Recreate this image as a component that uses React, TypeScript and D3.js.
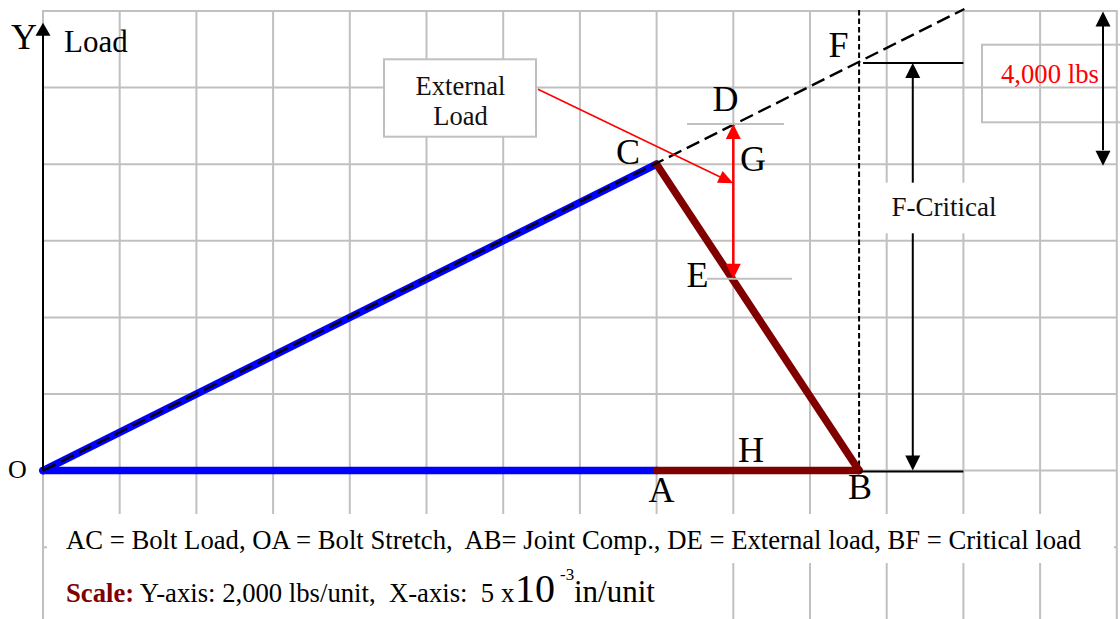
import React from 'react';
import * as d3 from 'd3';

const W = 1120;
const H = 619;

// grid units (1 unit = 2,000 lbs on Y, 5e-3 in on X)
const xTicks = [0, 1, 2, 3, 4, 5, 6, 7, 8, 9, 10, 11, 12, 13, 14];
const yTicks = [-1, 0, 1, 2, 3, 4, 5, 6];

// named points of the joint diagram (in grid units)
const pointNames = ['O', 'A', 'C', 'B', 'D', 'E', 'F', 'G'];
const pointX = [0, 8, 8, 10.64, 9, 9, 10.64, 9];
const pointY = [0, 0, 4, 0, 4.5, 2.48, 5.32, 3.75];

const boltSegments = [['O', 'C'], ['O', 'A']];
const jointSegments = [['A', 'B'], ['C', 'B']];
const loadLineEnd = [12, 6];
const fourKTop = 6;
const fourKBottom = 4;

const legendLine = 'AC = Bolt Load, OA = Bolt Stretch,  AB= Joint Comp., DE = External load, BF = Critical load';

const FONT = '"Liberation Serif", "Times New Roman", Times, serif';
const GRID = '#c0c0c0';
const BLUE = '#0000ff';
const BROWN = '#800000';
const RED = '#ff0000';

function tri(tx: number, ty: number, dx: number, dy: number, len: number, hw: number) {
  const n = Math.hypot(dx, dy);
  const ux = dx / n, uy = dy / n;
  const bx = tx - ux * len, by = ty - uy * len;
  const px = -uy, py = ux;
  return `M${tx},${ty}L${bx + px * hw},${by + py * hw}L${bx - px * hw},${by - py * hw}Z`;
}

export default function App() {
  const x = d3.scaleLinear().domain([0, 14]).range([43, 1116.8]);
  const y = d3.scaleLinear().domain([0, 6]).range([470.6, 11]);
  const P: Record<string, [number, number]> = {};
  pointNames.forEach((n, i) => { P[n] = [x(pointX[i]), y(pointY[i])]; });
  const line = d3.line<[number, number]>();

  const [Ox, Oy] = P.O;
  const [Fx, Fy] = P.F;
  const [Bx, By] = P.B;
  const [Dx, Dy] = P.D;
  const [Ex, Ey] = P.E;
  const [Gx, Gy] = P.G;
  const critX = x(11.34);
  const rightEnd = x(12);
  const fourKX = x(13.82);
  const ptrStart: [number, number] = [538, 89.3];

  return (
    <svg width={W} height={H} style={{ position: 'absolute', left: 0, top: 0, background: '#fff' }}
      fontFamily={FONT}>
      <rect x={0} y={0} width={W} height={H} fill="#fff" />
      {/* grid */}
      {xTicks.map(t => (
        <line key={'vx' + t} x1={x(t)} x2={x(t)} y1={y(6) - 1} y2={H} stroke={GRID} strokeWidth={2} />
      ))}
      {yTicks.map(t => (
        <line key={'hy' + t} x1={x(0)} x2={x(14)} y1={y(t)} y2={y(t)} stroke={GRID} strokeWidth={2} />
      ))}

      {/* 4,000 lbs box (transparent) */}
      <rect x={982} y={44.7} width={150} height={77.6} fill="none" stroke={GRID} strokeWidth={2} />

      {/* vertical dashed line at B/F */}
      <line x1={Fx} x2={Fx} y1={y(6) - 1} y2={By} stroke="#000" strokeWidth={2} strokeDasharray="5.5,3" />

      {/* bolt (blue) */}
      {boltSegments.map(([a, b]) => (
        <path key={a + b} d={line([P[a], P[b]]) || ''} stroke={BLUE} strokeWidth={7.5} strokeLinecap="round" fill="none" />
      ))}
      {/* joint (dark red) */}
      {jointSegments.map(([a, b]) => (
        <path key={a + b} d={line([P[a], P[b]]) || ''} stroke={BROWN} strokeWidth={7.5} strokeLinecap="round" fill="none" />
      ))}
      {/* dashed load line */}
      <path d={line([P.O, [x(loadLineEnd[0]) + 1, y(loadLineEnd[1]) - 2]]) || ''} stroke="#000" strokeWidth={2.4}
        strokeDasharray="14,6" fill="none" />

      {/* black guide lines */}
      <line x1={Fx + 4} x2={rightEnd} y1={Fy} y2={Fy} stroke="#000" strokeWidth={2} />
      <line x1={Bx} x2={rightEnd} y1={By + 1} y2={By + 1} stroke="#000" strokeWidth={2} />
      {/* F-critical arrow */}
      <line x1={critX} x2={critX} y1={Fy + 14} y2={By - 14} stroke="#000" strokeWidth={2} />
      <path d={tri(critX, Fy, 0, -1, 15, 7.5)} fill="#000" />
      <path d={tri(critX, By, 0, 1, 15, 7.5)} fill="#000" />
      {/* 4,000 lbs arrow */}
      <line x1={fourKX} x2={fourKX} y1={y(fourKTop) + 14} y2={y(fourKBottom) - 14} stroke="#000" strokeWidth={2} />
      <path d={tri(fourKX, y(fourKTop) + 0.5, 0, -1, 15, 7.5)} fill="#000" />
      <path d={tri(fourKX, y(fourKBottom) + 1.5, 0, 1, 15, 7.5)} fill="#000" />
      <text x={1001} y={82.5} fontSize={26.7} fill={RED}>4,000 lbs</text>

      {/* F-Critical label */}
      <rect x={882} y={182.7} width={124} height={50.6} fill="#fff" />
      <text x={944} y={216} fontSize={27} textAnchor="middle" fill="#111">F-Critical</text>

      {/* Y axis */}
      <line x1={Ox} x2={Ox} y1={Oy} y2={34} stroke="#000" strokeWidth={2} />
      <path d={tri(Ox, 22.7, 0, -1, 13, 7.5)} fill="#000" />

      {/* D / E ticks */}
      <line x1={687} x2={784} y1={Dy - 2} y2={Dy - 2} stroke={GRID} strokeWidth={2} />
      <line x1={707} x2={792} y1={Ey - 2} y2={Ey - 2} stroke={GRID} strokeWidth={2} />

      {/* External load box */}
      <rect x={384} y={59.3} width={152} height={77.4} fill="#fff" stroke={GRID} strokeWidth={2} />
      <text x={460.5} y={94.5} fontSize={26.5} textAnchor="middle" fill="#111">External</text>
      <text x={460.5} y={125} fontSize={26.5} textAnchor="middle" fill="#111">Load</text>
      {/* pointer */}
      <line x1={ptrStart[0]} y1={ptrStart[1]} x2={Gx - 12} y2={Gy - 5.8} stroke={RED} strokeWidth={1.6} />
      <path d={tri(Gx, Gy, Gx - ptrStart[0], Gy - ptrStart[1], 15, 6.5)} fill={RED} />
      {/* DE arrow */}
      <line x1={Dx} x2={Dx} y1={Dy + 10} y2={Ey - 10} stroke={RED} strokeWidth={2.5} />
      <path d={tri(Dx, Dy - 2, 0, -1, 15, 7.5)} fill={RED} />
      <path d={tri(Ex, Ey - 2, 0, 1, 15, 7.5)} fill={RED} />

      {/* point labels */}
      <g fontSize={36} fill="#000" textAnchor="middle">
        <text x={24} y={49}>Y</text>
        <text x={628} y={164}>C</text>
        <text x={725.5} y={111}>D</text>
        <text x={753} y={170.5}>G</text>
        <text x={697.5} y={286.5}>E</text>
        <text x={838.5} y={57}>F</text>
        <text x={751} y={462}>H</text>
        <text x={661.5} y={502}>A</text>
        <text x={860} y={499}>B</text>
      </g>
      <text x={8} y={478} fontSize={26}>O</text>
      <text x={64} y={52} fontSize={31}>Load</text>

      {/* bottom text boxes */}
      <rect x={47} y={514} width={1067} height={49} fill="#fff" />
      <rect x={47} y={563} width={618} height={60} fill="#fff" />
      <text x={66} y={549} fontSize={26.7} style={{ whiteSpace: 'pre' }} fill="#000">{legendLine}</text>
      <text x={66} y={601.7} fontSize={26.7} style={{ whiteSpace: 'pre' }} fill="#000">
        <tspan fontWeight="bold" fill={BROWN}>Scale:</tspan>
        <tspan>{' Y-axis: 2,000 lbs/unit,  X-axis:  5 x'}</tspan>
      </text>
      <text x={515} y={601.7} fontSize={40} fill="#000">10</text>
      <text x={560} y={580} fontSize={17} fill="#000">-3</text>
      <text x={574} y={601.7} fontSize={31} fill="#000">in/unit</text>
    </svg>
  );
}
